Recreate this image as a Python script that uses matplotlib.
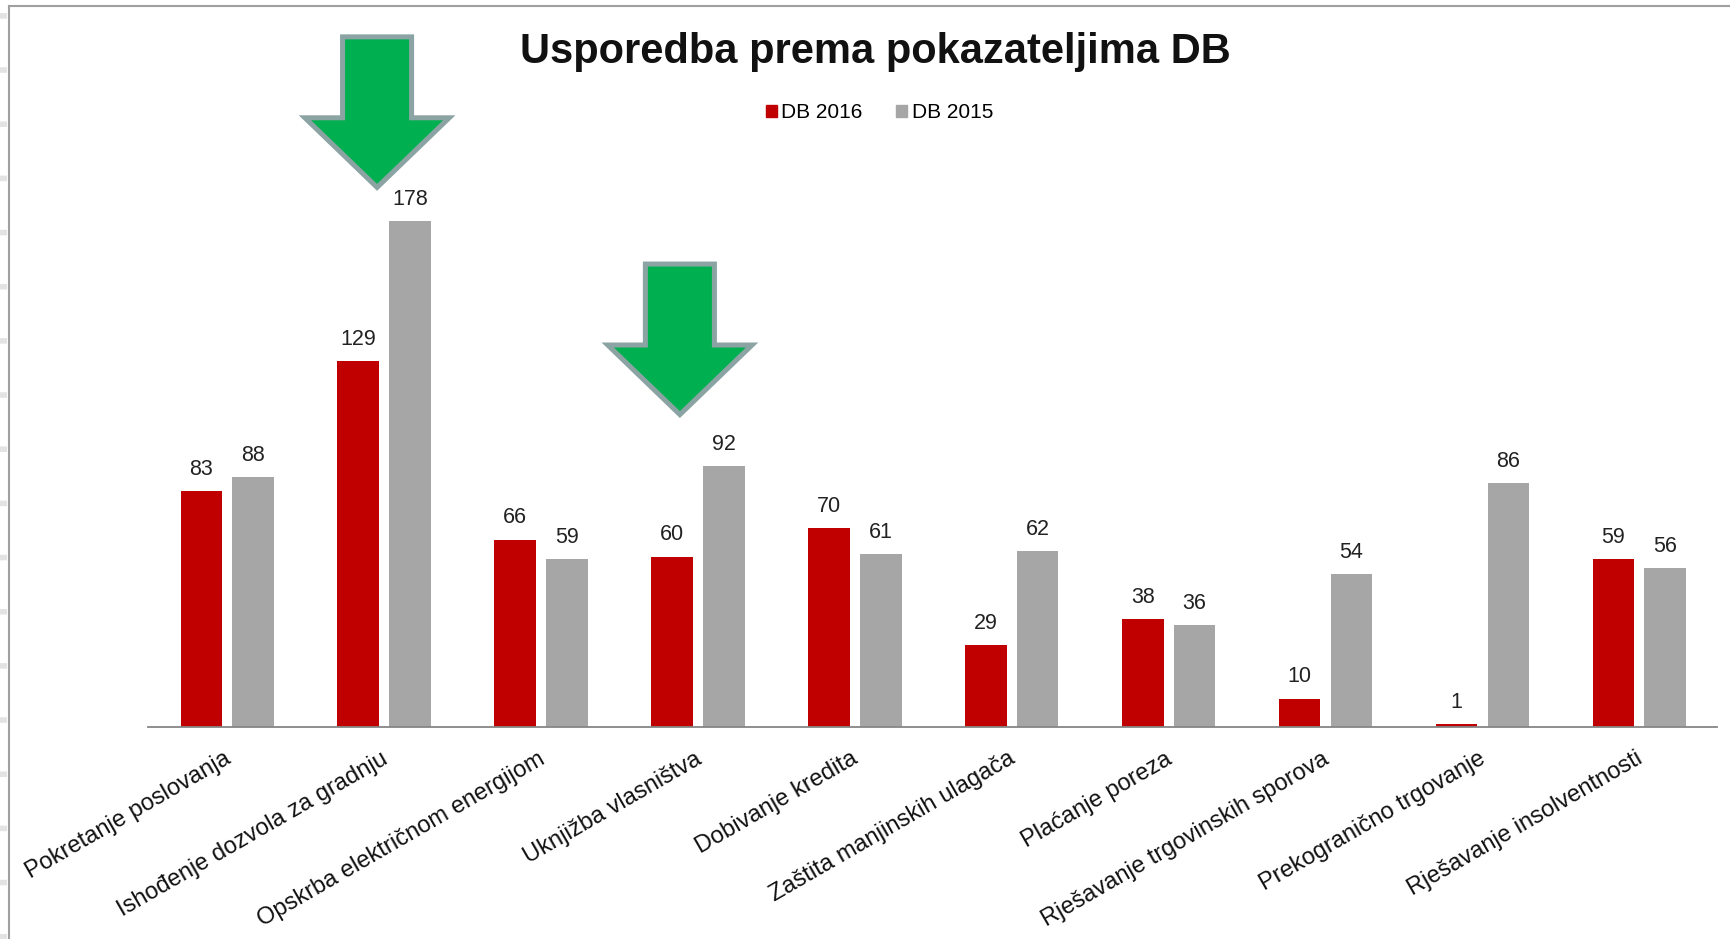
import numpy as np
import matplotlib
matplotlib.use("Agg")
import matplotlib.pyplot as plt
from matplotlib.patches import Polygon, Patch
from matplotlib.lines import Line2D
from matplotlib.transforms import ScaledTranslation

plt.rcParams['font.family'] = ['Liberation Sans', 'DejaVu Sans']

# data
categories = ["Pokretanje poslovanja", "Ishođenje dozvola za gradnju",
              "Opskrba električnom energijom", "Uknjižba vlasništva",
              "Dobivanje kredita", "Zaštita manjinskih ulagača",
              "Plaćanje poreza", "Rješavanje trgovinskih sporova",
              "Prekogranično trgovanje", "Rješavanje insolventnosti"]
db2016 = [83, 129, 66, 60, 70, 29, 38, 10, 1, 59]
db2015 = [88, 178, 59, 92, 61, 62, 36, 54, 86, 56]

# green arrows pointing at two indicators (x in category units, tip in value units)
arrow_x = [0.96, 2.89]
arrow_tip = [190, 110]

RED = "#C00000"
GRAY = "#A6A6A6"

fig = plt.figure(figsize=(17.31, 9.39), dpi=100)
ax = fig.add_axes([0.0855, 0.2258, 0.9064, 0.6049])

x = np.arange(len(categories))
w = 0.265
b1 = ax.bar(x - 0.16, db2016, w, color=RED, label="DB 2016")
b2 = ax.bar(x + 0.17, db2015, w, color=GRAY, label="DB 2015")
ax.bar_label(b1, padding=8, fontsize=15.5, color="#222222")
ax.bar_label(b2, padding=8, fontsize=15.5, color="#222222")

ax.set_xlim(-0.5, 9.5)
ax.set_ylim(0, 200)
for s in ["top", "right", "left"]:
    ax.spines[s].set_visible(False)
ax.spines["bottom"].set_color("#868686")
ax.spines["bottom"].set_linewidth(1.3)
ax.set_yticks([])
ax.set_xticks(x)
ax.set_xticklabels(categories, rotation=30, ha="right", va="top",
                   rotation_mode="anchor", fontsize=17, color="#111111")
ax.tick_params(axis="x", length=0, pad=15)
off = ScaledTranslation(-3 / 100, 0, fig.dpi_scale_trans)
for lab in ax.get_xticklabels():
    lab.set_transform(lab.get_transform() + off)

# arrows
for ax_c, tip in zip(arrow_x, arrow_tip):
    sw, hw, hl, L = 0.22, 0.46, 24.5, 53
    pts = [(ax_c - sw, tip + L), (ax_c + sw, tip + L), (ax_c + sw, tip + hl),
           (ax_c + hw, tip + hl), (ax_c, tip), (ax_c - hw, tip + hl),
           (ax_c - sw, tip + hl)]
    ax.add_patch(Polygon(pts, closed=True, facecolor="#00B050",
                         edgecolor="#8CA3A3", linewidth=3.6,
                         joinstyle="miter", clip_on=False, zorder=5))

fig.text(0.5055, 0.9446, "Usporedba prema pokazateljima DB", ha="center",
         va="center", fontsize=30, fontweight="bold", color="#111111")

handles = [Patch(color=RED, label="DB 2016"), Patch(color=GRAY, label="DB 2015")]
fig.legend(handles=handles, loc="center", bbox_to_anchor=(0.508, 0.88),
           ncol=2, frameon=False, fontsize=15, handlelength=0.55,
           handleheight=0.55, handletextpad=0.2, columnspacing=1.6)

# screenshot frame
fig.add_artist(Line2D([9 / 1731, 9 / 1731], [0, 1 - 6 / 939],
                      transform=fig.transFigure, color="#A0A0A0", lw=1.5))
fig.add_artist(Line2D([9 / 1731, 1], [1 - 6 / 939, 1 - 6 / 939],
                      transform=fig.transFigure, color="#A0A0A0", lw=1.5))
fig.add_artist(Line2D([3.5 / 1731, 3.5 / 1731], [0, 1],
                      transform=fig.transFigure, color="#E3E3E3", lw=5,
                      dashes=(0.8, 7)))

fig.savefig("out.png", dpi=100)
